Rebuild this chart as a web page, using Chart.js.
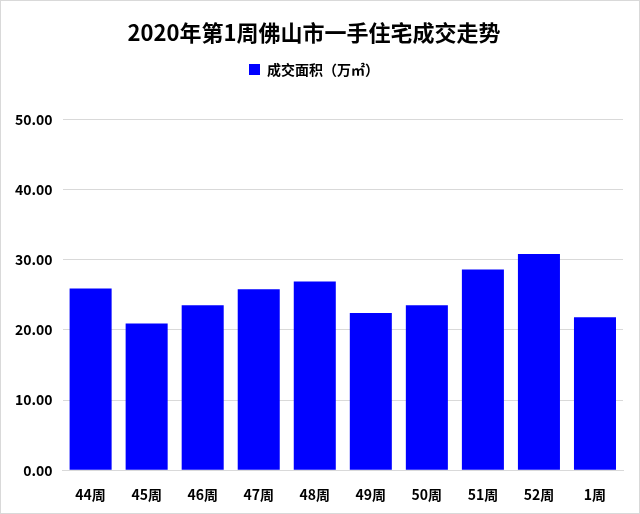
<!DOCTYPE html>
<html>
<head>
<meta charset="utf-8">
<script src="https://cdn.jsdelivr.net/npm/chart.js@4"></script>
<style>
  html, body { margin: 0; padding: 0; background: #fff; }
  #box { width: 640px; height: 514px; box-sizing: border-box; border: 1px solid #d9d9d9; }
</style>
</head>
<body>
<div id="box"><canvas id="chart"></canvas></div>
<script>
"use strict";

var weeks = ["44周", "45周", "46周", "47周", "48周", "49周", "50周", "51周", "52周", "1周"];
var area = [25.9, 20.9, 23.5, 25.8, 26.9, 22.4, 23.5, 28.6, 30.8, 21.8];
var yTicks = [0, 10, 20, 30, 40, 50];

var fontFamily = "'Noto Sans CJK SC', 'Noto Sans', sans-serif";

var legendGap = {
	id: "legendGap",
	beforeInit: function(chart) {
		var fit = chart.legend.fit;
		chart.legend.fit = function() {
			fit.bind(chart.legend)();
			this.height += 33;
		};
	}
};

new Chart(document.getElementById("chart").getContext("2d"), {
	type: "bar",
	data: {
		labels: weeks,
		datasets: [{
			label: "成交面积（万㎡）",
			data: area,
			backgroundColor: "#0000ff",
			borderWidth: 0,
			categoryPercentage: 0.75,
			barPercentage: 1
		}]
	},
	options: {
		responsive: true,
		maintainAspectRatio: false,
		animation: false,
		layout: { padding: { left: 4, right: 16, top: 14, bottom: 2 } },
		plugins: {
			title: {
				display: true,
				text: "2020年第1周佛山市一手住宅成交走势",
				color: "#000",
				font: { family: fontFamily, size: 22, weight: "bold" },
				padding: { top: 4, bottom: 7 }
			},
			legend: {
				display: true,
				labels: {
					color: "#000",
					boxWidth: 11,
					boxHeight: 11,
					padding: 10,
					font: { family: fontFamily, size: 14, weight: "bold" }
				}
			},
			tooltip: { enabled: false }
		},
		scales: {
			x: {
				grid: { display: false },
				border: { color: "#d9d9d9" },
				ticks: {
					color: "#000",
					padding: 8,
					font: { family: fontFamily, size: 14, weight: "bold" }
				}
			},
			y: {
				min: 0,
				max: 50,
				afterBuildTicks: function(axis) {
					axis.ticks = yTicks.map(function(v) { return { value: v }; });
				},
				grid: { color: "#d9d9d9", drawTicks: false },
				border: { display: false },
				ticks: {
					color: "#000",
					padding: 10,
					font: { family: fontFamily, size: 14, weight: "bold" },
					callback: function(v) { return Number(v).toFixed(2); }
				}
			}
		}
	},
	plugins: [legendGap]
});
</script>
</body>
</html>
